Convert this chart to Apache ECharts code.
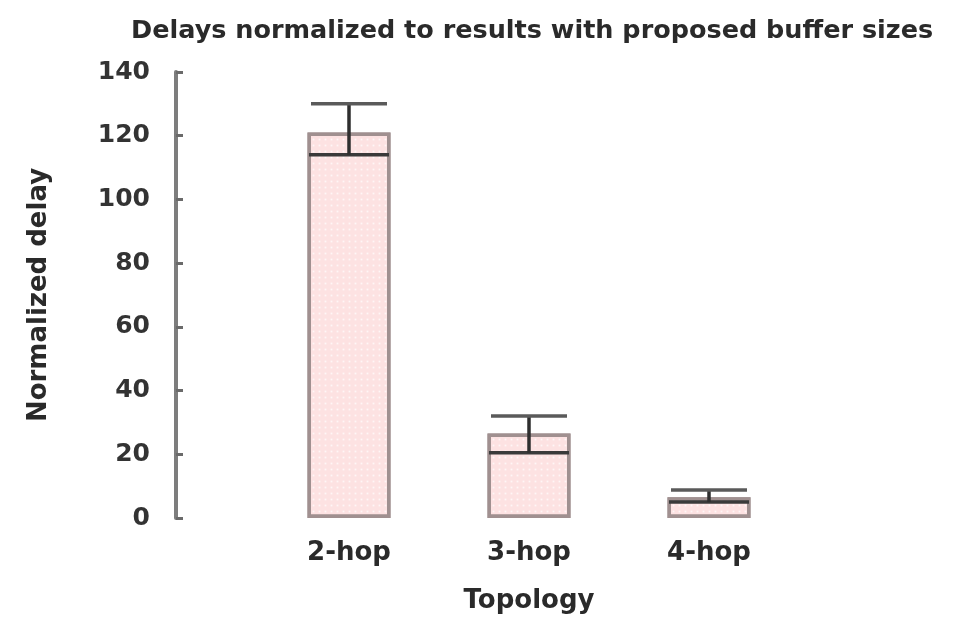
<!DOCTYPE html>
<html>
<head>
<meta charset="utf-8">
<script src="https://cdn.jsdelivr.net/npm/echarts@6/dist/echarts.min.js"></script>
<style>
  html, body { margin: 0; padding: 0; background: #fff; }
  #main { width: 955px; height: 619px; }
</style>
</head>
<body>
<div id="main"></div>
<script>
// data
var categories = ['2-hop', '3-hop', '4-hop'];
var barValues = [121, 26.5, 6.5];
var lowValues = [114, 20.5, 5];
var highValues = [130, 32, 8.8];
var yTicks = [0, 20, 40, 60, 80, 100, 120, 140];

var errData = [];
for (var i = 0; i < categories.length; i++) {
    errData.push([i, lowValues[i], highValues[i]]);
}

var myChart = echarts.init(document.getElementById('main'));
var fontName = 'DejaVu Sans';

// error bar: line across bar at low, whisker up to high with cap
function renderErr(params, api) {
    var x = api.value(0);
    var pLow = api.coord([x, api.value(1)]);
    var pHigh = api.coord([x, api.value(2)]);
    var half = 40;
    return {
        type: 'group',
        children: [
            {
                type: 'line',
                shape: {x1: pLow[0] - half, y1: pLow[1], x2: pLow[0] + half, y2: pLow[1]},
                style: {stroke: '#3a3a3a', lineWidth: 3.5}
            },
            {
                type: 'line',
                shape: {x1: pLow[0], y1: pLow[1], x2: pHigh[0], y2: pHigh[1]},
                style: {stroke: '#2e2e2e', lineWidth: 3.5}
            },
            {
                type: 'line',
                shape: {x1: pHigh[0] - half + 2, y1: pHigh[1], x2: pHigh[0] + half - 2, y2: pHigh[1]},
                style: {stroke: '#5a5a5a', lineWidth: 3.5}
            }
        ]
    };
}

var option = {
    animation: false,
    title: {
        text: 'Delays normalized to results with proposed buffer sizes',
        left: 126,
        top: 13,
        textStyle: {
            fontFamily: fontName,
            fontSize: 25.5,
            fontWeight: 'bold',
            color: '#2a2a2a'
        }
    },
    grid: {
        left: 259,
        right: 156,
        top: 72,
        bottom: 101
    },
    xAxis: {
        type: 'category',
        data: categories,
        name: 'Topology',
        nameLocation: 'middle',
        nameGap: 70,
        nameTextStyle: {fontFamily: fontName, fontSize: 26, fontWeight: 'bold', color: '#2a2a2a'},
        axisLine: {show: false},
        axisTick: {show: false},
        axisLabel: {
            margin: 22,
            fontFamily: fontName,
            fontSize: 26,
            fontWeight: 'bold',
            color: '#2a2a2a'
        }
    },
    yAxis: {
        type: 'value',
        min: 0,
        max: 140,
        interval: 20,
        offset: 83,
        name: 'Normalized delay',
        nameLocation: 'middle',
        nameGap: 124,
        nameTextStyle: {fontFamily: fontName, fontSize: 26, fontWeight: 'bold', color: '#2a2a2a'},
        splitLine: {show: false},
        axisLine: {show: true, lineStyle: {color: '#7d7d7d', width: 4}},
        axisTick: {show: true, inside: true, length: 7, lineStyle: {color: '#6a6a6a', width: 3}},
        axisLabel: {
            margin: 26,
            fontFamily: fontName,
            fontSize: 25,
            fontWeight: 'bold',
            color: '#333',
            formatter: function (v) { return yTicks.indexOf(v) >= 0 ? String(v) : ''; }
        }
    },
    series: [
        {
            type: 'bar',
            data: barValues,
            barWidth: 83,
            itemStyle: {
                color: '#fde2e2',
                borderColor: '#a09090',
                borderWidth: 3.5,
                decal: {
                    symbol: 'rect',
                    symbolSize: 0.6,
                    color: 'rgba(255,255,255,0.7)',
                    dashArrayX: [[3, 3]],
                    dashArrayY: [3, 3],
                    rotation: 0
                }
            },
            z: 2
        },
        {
            type: 'custom',
            data: errData,
            renderItem: renderErr,
            z: 5
        }
    ]
};

myChart.setOption(option);
</script>
</body>
</html>
